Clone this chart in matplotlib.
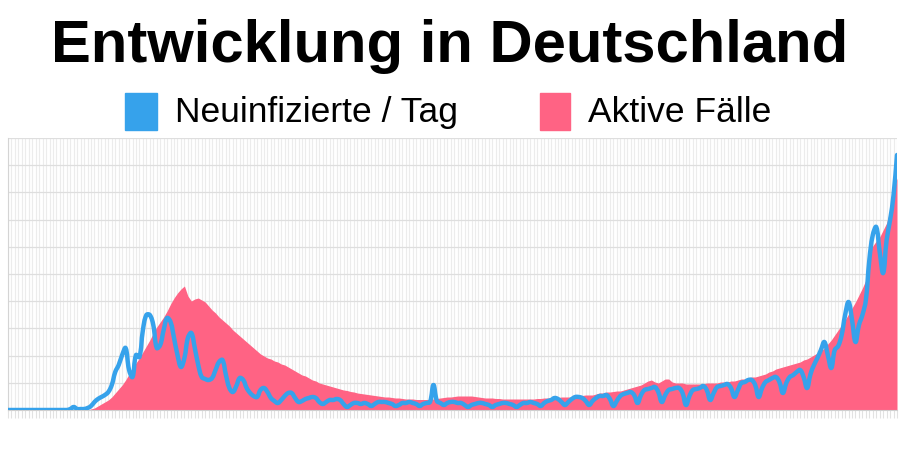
import numpy as np
import matplotlib
matplotlib.use("Agg")
import matplotlib.pyplot as plt
from matplotlib.patches import Rectangle, PathPatch
from matplotlib.path import Path


# =================== data (unlabeled y scale) ===================
titel = "Entwicklung in Deutschland"
label_neu = "Neuinfizierte / Tag"
label_aktiv = "Aktive Fälle"

# daily new infections (one value per day)
neuinfizierte = [
    0, 0, 0, 0, 0, 0, 0, 0, 0, 0,
    0, 0, 0, 0, 0, 0, 0, 0, 1, 3,
    1, 1, 1, 2, 4, 8, 11, 13, 15, 18,
    25, 38, 45, 55, 62, 40, 33, 55, 53, 80,
    95, 95, 85, 62, 65, 80, 92, 88, 72, 55,
    43, 52, 72, 77, 62, 45, 33, 31, 30, 32,
    40, 48, 50, 35, 22, 18, 24, 32, 30, 22,
    17, 14, 13, 20, 22, 18, 12, 9, 7, 10,
    14, 17, 17, 12, 8, 9, 11, 12, 13, 12,
    8, 6, 8, 10, 10, 11, 10, 6, 3, 5,
    7, 7, 6, 7, 6, 4, 6, 8, 8, 8,
    7, 6, 4, 5, 7, 7, 8, 7, 6, 4,
    6, 7, 8, 25, 9, 7, 5, 7, 8, 8,
    7, 7, 5, 3, 5, 6, 7, 7, 6, 5,
    3, 5, 6, 7, 7, 6, 5, 3, 5, 7,
    7, 8, 7, 6, 4, 7, 9, 10, 12, 11,
    8, 5, 8, 11, 13, 13, 12, 9, 5, 9,
    12, 14, 14, 15, 11, 4, 9, 14, 16, 17,
    18, 15, 7, 15, 20, 21, 22, 23, 18, 8,
    15, 20, 21, 22, 22, 17, 5, 14, 20, 21,
    22, 24, 20, 10, 17, 23, 24, 25, 26, 22,
    13, 20, 27, 28, 30, 30, 25, 13, 22, 28,
    30, 32, 33, 28, 17, 27, 33, 35, 38, 40,
    33, 22, 36, 45, 52, 60, 68, 55, 42, 60,
    64, 75, 95, 108, 90, 68, 85, 95, 110, 150,
    175, 183, 158, 137, 170, 190, 215, 255,
]

# active cases (one value per day)
aktive_faelle = [
    0, 0, 0, 0, 0, 0, 0, 0, 0, 0,
    0, 0, 0, 0, 0, 0, 0, 0, 0, 0,
    0, 0, 0, 0, 1, 2, 4, 6, 8, 10,
    13, 17, 21, 25, 30, 36, 42, 47, 52, 58,
    64, 70, 77, 83, 88, 93, 99, 106, 112, 117,
    121, 124, 114, 109, 111, 112, 110, 108, 104, 100,
    97, 93, 90, 87, 84, 80, 77, 74, 71, 68,
    65, 62, 59, 56, 54, 52, 51, 49, 48, 46,
    45, 43, 41, 39, 37, 35, 34, 32, 30, 29,
    27, 26, 25, 24, 23, 22, 21, 20, 19.5, 18.5,
    18, 17, 16.5, 16, 15.5, 15, 14.5, 14, 13.5, 13,
    13, 12.5, 12, 12, 11.5, 11, 11, 11, 10.5, 10.5,
    10.5, 10.5, 10.5, 11, 11.5, 12, 12.5, 13, 13, 13.5,
    14, 14, 14, 14, 14, 13.5, 13, 12.5, 12, 12,
    12, 11.5, 11.5, 11, 11, 11, 11, 11, 11, 11,
    11, 11, 11, 11.5, 11.5, 12, 12, 12, 12.5, 12.5,
    13, 13, 13, 13, 13.5, 14, 14.5, 15, 15, 15,
    16, 17, 17, 18, 18, 18.5, 19, 19, 20, 21,
    22, 23, 24, 25, 27, 29, 30, 28, 27, 29,
    31, 31, 28, 27, 27, 27, 26, 26, 26, 26,
    26, 26, 27, 27, 27, 27, 28, 28, 28, 29,
    29, 30, 31, 31, 32, 33, 33, 34, 35, 36,
    38, 39, 41, 42, 43, 44, 45, 46, 47, 48,
    50, 51, 53, 55, 57, 59, 62, 66, 70, 75,
    80, 85, 90, 96, 102, 108, 115, 122, 130, 158,
    164, 169, 173, 180, 187, 200, 218, 232,
]

tage = np.arange(len(neuinfizierte))

BLUE = "#36a2eb"
PINK = "#ff6384"
FONT = "Liberation Sans"


# =================== smooth line like the web chart (bezier with tension) ===================
def spline_path(x, y, tension=0.4, x_scale=3.46):
    pts = np.column_stack([x, y]).astype(float)
    n = len(pts)
    cp_in = np.zeros_like(pts)
    cp_out = np.zeros_like(pts)
    for i in range(n):
        prev = pts[max(i - 1, 0)]
        cur = pts[i]
        nxt = pts[min(i + 1, n - 1)]
        d01 = np.hypot((cur[0] - prev[0]) * x_scale, cur[1] - prev[1])
        d12 = np.hypot((nxt[0] - cur[0]) * x_scale, nxt[1] - cur[1])
        total = d01 + d12
        s01 = d01 / total if total else 0.0
        s12 = d12 / total if total else 0.0
        cp_in[i] = cur - tension * s01 * (nxt - prev)
        cp_out[i] = cur + tension * s12 * (nxt - prev)
    cp_in[:, 1] = np.maximum(cp_in[:, 1], 0)
    cp_out[:, 1] = np.maximum(cp_out[:, 1], 0)
    verts = [pts[0]]
    codes = [Path.MOVETO]
    for i in range(n - 1):
        verts += [cp_out[i], cp_in[i + 1], pts[i + 1]]
        codes += [Path.CURVE4] * 3
    return Path(verts, codes)


# =================== figure ===================
fig = plt.figure(figsize=(9, 4.5), dpi=100)
ax = fig.add_axes([8 / 900, 40 / 450, 889 / 900, 272 / 450])

ax.fill_between(tage, aktive_faelle, 0, color=PINK, linewidth=0, zorder=2)
line = PathPatch(spline_path(tage, neuinfizierte), fill=False, edgecolor=BLUE,
                 linewidth=3.2, capstyle="round", joinstyle="round", zorder=3)
ax.add_patch(line)

ax.set_xlim(tage[0], tage[-1])
ax.set_ylim(0, 272)

# grid: one vertical line per day, 10 horizontal steps
ax.set_xticks(tage)
ax.set_yticks(np.linspace(0, 272, 11))
ax.grid(axis="x", color="#ececec", linewidth=0.8, zorder=0)
ax.grid(axis="y", color="#dedede", linewidth=0.9, zorder=0)
ax.set_axisbelow(True)
ax.tick_params(axis="x", length=6, width=0.8, color="#e2e2e2", labelbottom=False)
ax.tick_params(axis="y", length=0, labelleft=False)

for side in ["top", "right"]:
    ax.spines[side].set_visible(False)
ax.spines["left"].set_color("#d4d4d4")
ax.spines["bottom"].set_color("#cfcfcf")

# title
fig.text(0.5, 1 - 62 / 450, titel, ha="center", va="baseline",
         fontsize=43, fontweight="bold", family=FONT)

# legend (drawn by hand like the chart header)
fig.patches.append(Rectangle((125 / 900, 1 - 130 / 450), 32 / 900, 37 / 450,
                             transform=fig.transFigure, color=BLUE))
fig.text(175 / 900, 1 - 122 / 450, label_neu, ha="left", va="baseline",
         fontsize=25.5, family=FONT)
fig.patches.append(Rectangle((540 / 900, 1 - 130 / 450), 30 / 900, 37 / 450,
                             transform=fig.transFigure, color=PINK))
fig.text(588 / 900, 1 - 122 / 450, label_aktiv, ha="left", va="baseline",
         fontsize=25.5, family=FONT)

fig.savefig("out.png", dpi=100)
plt.close(fig)
